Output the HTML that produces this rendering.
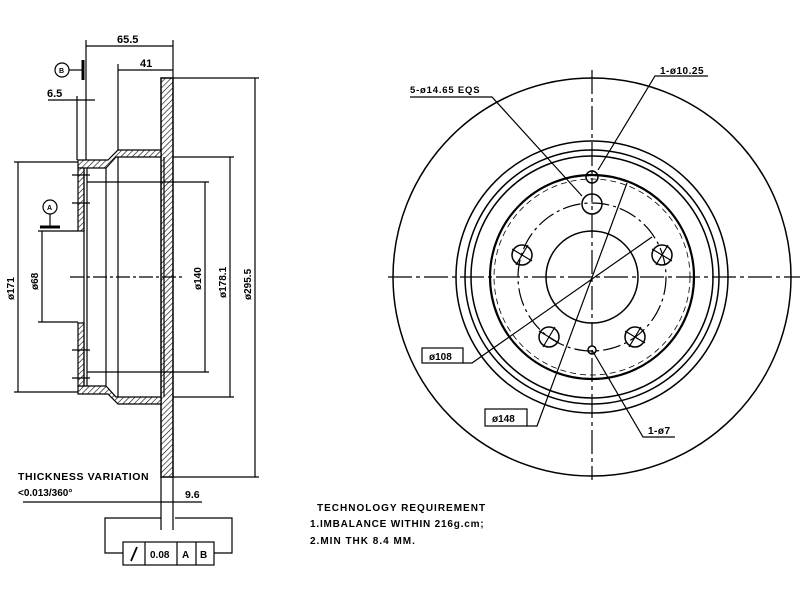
<!DOCTYPE html>
<html><head><style>body{margin:0;background:#fff}svg{display:block}text{font-family:"Liberation Sans",sans-serif;font-weight:bold;fill:#000}</style></head><body>
<svg width="800" height="600" viewBox="0 0 800 600" xmlns="http://www.w3.org/2000/svg">
<defs><pattern id="h" width="4" height="4" patternUnits="userSpaceOnUse" patternTransform="rotate(45)"><rect width="4" height="4" fill="#fff"/><line x1="0" y1="0" x2="0" y2="4" stroke="#000" stroke-width="1.2"/></pattern></defs>
<g stroke="#000" stroke-width="1.2" fill="none">
<rect x="161" y="78" width="12" height="399" fill="url(#h)" stroke-width="1.5"/>
<path d="M161,150 L118,150 L108,160 L78,160 L78,168 L106,168 L116,157 L161,157Z" fill="url(#h)"/>
<path d="M161,404 L118,404 L108,394 L78,394 L78,386 L106,386 L116,397 L161,397Z" fill="url(#h)"/>
<rect x="78" y="168" width="6" height="63" fill="url(#h)"/>
<rect x="78" y="323" width="6" height="63" fill="url(#h)"/>
<line x1="84" y1="168" x2="84" y2="386"/><line x1="87" y1="168" x2="87" y2="386"/>
<line x1="106" y1="168" x2="106" y2="386"/><line x1="118" y1="157" x2="118" y2="397"/>
<line x1="164" y1="157" x2="164" y2="397"/>
<line x1="72" y1="175" x2="90" y2="175"/><line x1="72" y1="203" x2="90" y2="203"/><line x1="72" y1="350" x2="90" y2="350"/><line x1="72" y1="378" x2="90" y2="378"/>
<line x1="70" y1="277" x2="182" y2="277" stroke-dasharray="14,3,3,3"/>
<line x1="86" y1="46" x2="173" y2="46"/><line x1="86" y1="40" x2="86" y2="160"/><line x1="173" y1="40" x2="173" y2="78"/>
<line x1="118" y1="70" x2="173" y2="70"/><line x1="118" y1="64" x2="118" y2="150"/>
<line x1="48" y1="100" x2="95" y2="100"/><line x1="77" y1="96" x2="77" y2="160"/>
<circle cx="62" cy="70" r="7"/><line x1="69" y1="70" x2="82" y2="70"/><line x1="83" y1="60" x2="83" y2="80" stroke-width="3"/>
<circle cx="50" cy="207" r="7"/><line x1="50" y1="214" x2="50" y2="227"/><line x1="40" y1="227" x2="60" y2="227" stroke-width="3"/>
<line x1="18" y1="162" x2="18" y2="392"/><line x1="14" y1="162" x2="78" y2="162"/><line x1="14" y1="392" x2="78" y2="392"/>
<line x1="42" y1="231" x2="42" y2="322"/><line x1="38" y1="231" x2="78" y2="231"/><line x1="38" y1="322" x2="78" y2="322"/>
<line x1="205" y1="182" x2="205" y2="372"/><line x1="87" y1="182" x2="209" y2="182"/><line x1="87" y1="372" x2="209" y2="372"/>
<line x1="230" y1="157" x2="230" y2="397"/><line x1="173" y1="157" x2="234" y2="157"/><line x1="173" y1="397" x2="234" y2="397"/>
<line x1="255" y1="78" x2="255" y2="477"/><line x1="173" y1="78" x2="259" y2="78"/><line x1="173" y1="477" x2="259" y2="477"/>
<line x1="161" y1="477" x2="161" y2="530"/><line x1="173" y1="477" x2="173" y2="530"/>
<line x1="23" y1="502" x2="202" y2="502"/>
<path d="M161,518 L105,518 L105,553 L123,553"/><path d="M175,518 L232,518 L232,553 L214,553"/>
<rect x="123" y="542" width="91" height="23"/><line x1="145" y1="542" x2="145" y2="565"/><line x1="177" y1="542" x2="177" y2="565"/><line x1="196" y1="542" x2="196" y2="565"/>
<line x1="131" y1="561" x2="137" y2="547" stroke-width="1.8"/>
<circle cx="592" cy="277" r="199" stroke-width="1.5"/>
<circle cx="592" cy="277" r="136" stroke-width="1.5"/>
<circle cx="592" cy="277" r="127" stroke-width="1.5"/>
<circle cx="592" cy="277" r="121" stroke-width="1.5"/>
<circle cx="592" cy="277" r="102" stroke-width="2.2"/>
<circle cx="592" cy="277" r="98" stroke-dasharray="6,4" stroke-width="0.8"/>
<circle cx="592" cy="277" r="46" stroke-width="1.5"/>
<circle cx="592" cy="277" r="74" stroke-dasharray="18,4,3,4"/>
<line x1="388" y1="277" x2="800" y2="277" stroke-dasharray="24,4,4,4"/>
<line x1="592" y1="70" x2="592" y2="480" stroke-dasharray="24,4,4,4"/>
<circle cx="592" cy="204" r="10" stroke-width="1.5"/>
<circle cx="522" cy="255" r="10" stroke-width="1.5"/><circle cx="662" cy="255" r="10" stroke-width="1.5"/>
<circle cx="549" cy="337" r="10" stroke-width="1.5"/><circle cx="635" cy="337" r="10" stroke-width="1.5"/>
<path d="M512,249 L532,261 M516,265 L528,245 M652,249 L672,261 M656,265 L668,245 M539,331 L559,343 M543,347 L555,327 M625,331 L645,343 M629,347 L641,327"/>
<circle cx="592" cy="177" r="6" stroke-width="1.5"/><circle cx="592" cy="350" r="4" stroke-width="1.5"/>
<path d="M410,97 L492,97 L582,196"/>
<path d="M708,76 L655,76 L598,170"/>
<path d="M463,363 L472,363 L652,237"/>
<path d="M527,426 L537,426 L627,183"/>
<path d="M592,350 L643,437 L675,437"/>
<rect x="422" y="348" width="41" height="15"/>
<rect x="485" y="409" width="42" height="17"/>
</g>
<g font-size="11">
<text x="117" y="43">65.5</text><text x="140" y="67">41</text><text x="47" y="97">6.5</text>
<text x="59" y="73" font-size="7">B</text><text x="47" y="210" font-size="7">A</text>
<text transform="translate(14,300) rotate(-90)" font-size="10">ø171</text>
<text transform="translate(38,290) rotate(-90)" font-size="10">ø68</text>
<text transform="translate(201,290) rotate(-90)" font-size="10">ø140</text>
<text transform="translate(226,298) rotate(-90)" font-size="10">ø178.1</text>
<text transform="translate(251,300) rotate(-90)" font-size="10">ø295.5</text>
<text x="18" y="480" font-size="10.5" letter-spacing="0.6">THICKNESS VARIATION</text>
<text x="18" y="496" font-size="10">&lt;0.013/360°</text>
<text x="185" y="498" font-size="10.5">9.6</text>
<text x="150" y="558" font-size="10">0.08</text><text x="182" y="558" font-size="10">A</text><text x="200" y="558" font-size="10">B</text>
<text x="317" y="511" font-size="10" letter-spacing="1">TECHNOLOGY REQUIREMENT</text>
<text x="310" y="527" font-size="10" letter-spacing="0.8">1.IMBALANCE WITHIN 216g.cm;</text>
<text x="310" y="544" font-size="10" letter-spacing="1">2.MIN THK 8.4 MM.</text>
<text x="410" y="93" font-size="9.5" letter-spacing="0.8">5-ø14.65 EQS</text>
<text x="660" y="74" font-size="10" letter-spacing="0.5">1-ø10.25</text>
<text x="429" y="360" font-size="10">ø108</text>
<text x="492" y="422" font-size="10">ø148</text>
<text x="648" y="434" font-size="10" letter-spacing="0.5">1-ø7</text>
</g>
</svg>
</body></html>
